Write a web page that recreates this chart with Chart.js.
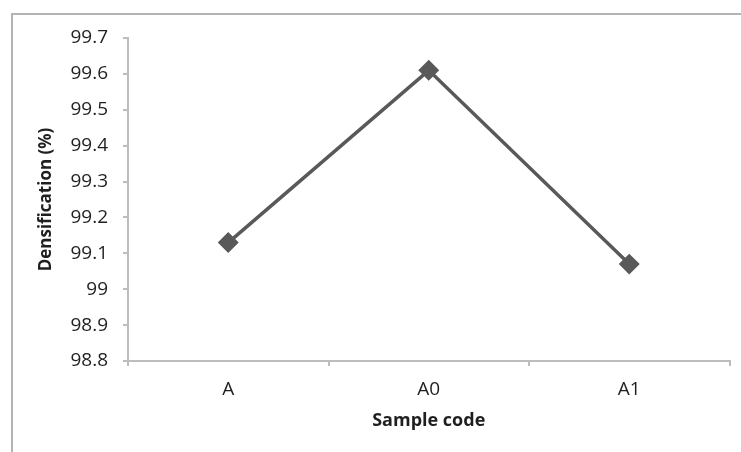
<!DOCTYPE html>
<html>
<head>
<meta charset="utf-8">
<script src="https://cdn.jsdelivr.net/npm/chart.js@4/dist/chart.umd.min.js"></script>
<style>
  html, body { margin: 0; padding: 0; background: #fff; }
  #wrap { position: relative; width: 741px; height: 452px; overflow: hidden; }
  #frame { position: absolute; left: 11px; top: 13px; width: 800px; height: 500px;
           border-top: 2px solid #b4b4b4; border-left: 2px solid #b4b4b4; }
  #chart { position: absolute; left: 0; top: 0; }
</style>
</head>
<body>
<div id="wrap">
  <div id="frame"></div>
  <canvas id="chart" width="741" height="452"></canvas>
</div>
<script>
// Densification by sample code
const categories = ['A', 'A0', 'A1'];
const densification = [99.13, 99.61, 99.07];
const yMin = 98.8;
const yMax = 99.7;
const yStep = 0.1;

const FONT = '"Open Sans", "Noto Sans", sans-serif';
const AXIS_GREY = '#bdbdbd';
const TEXT = '#1f1f1f';

new Chart(document.getElementById('chart'), {
    type: 'line',
    data: {
        labels: categories,
        datasets: [{
            label: 'Densification (%)',
            data: densification,
            borderColor: '#595959',
            backgroundColor: '#595959',
            borderWidth: 3.5,
            pointStyle: 'rectRot',
            pointRadius: 8,
            pointHoverRadius: 8,
            tension: 0,
        }]
    },
    options: {
        responsive: false,
        animation: false,
        devicePixelRatio: 1,
        layout: { padding: { top: 38, right: 10, bottom: 0, left: 0 } },
        plugins: {
            legend: { display: false },
            tooltip: { enabled: false },
        },
        scales: {
            x: {
                type: 'category',
                offset: true,
                border: { color: AXIS_GREY, width: 2 },
                grid: { offset: true, drawOnChartArea: false, drawTicks: true, tickLength: 5, color: AXIS_GREY, lineWidth: 2 },
                ticks: { color: TEXT, padding: 12, font: { family: FONT, size: 19 } },
                title: {
                    display: true, text: 'Sample code', color: TEXT,
                    font: { family: FONT, size: 18, weight: 'bold' },
                    padding: { top: 0, bottom: 20 },
                },
                afterFit: s => { s.height = 91; },
            },
            y: {
                min: yMin,
                max: yMax,
                border: { color: AXIS_GREY, width: 2 },
                grid: { drawOnChartArea: false, drawTicks: true, tickLength: 5, color: AXIS_GREY, lineWidth: 2 },
                ticks: {
                    stepSize: yStep,
                    color: TEXT,
                    padding: 15,
                    font: { family: FONT, size: 19 },
                    callback: v => String(+Number(v).toFixed(1)),
                },
                title: {
                    display: true, text: 'Densification (%)', color: TEXT,
                    font: { family: FONT, size: 17, weight: 'bold' },
                    padding: { top: 36, bottom: 0 },
                },
                afterFit: s => { s.width = 128; },
            }
        }
    }
});
</script>
</body>
</html>
